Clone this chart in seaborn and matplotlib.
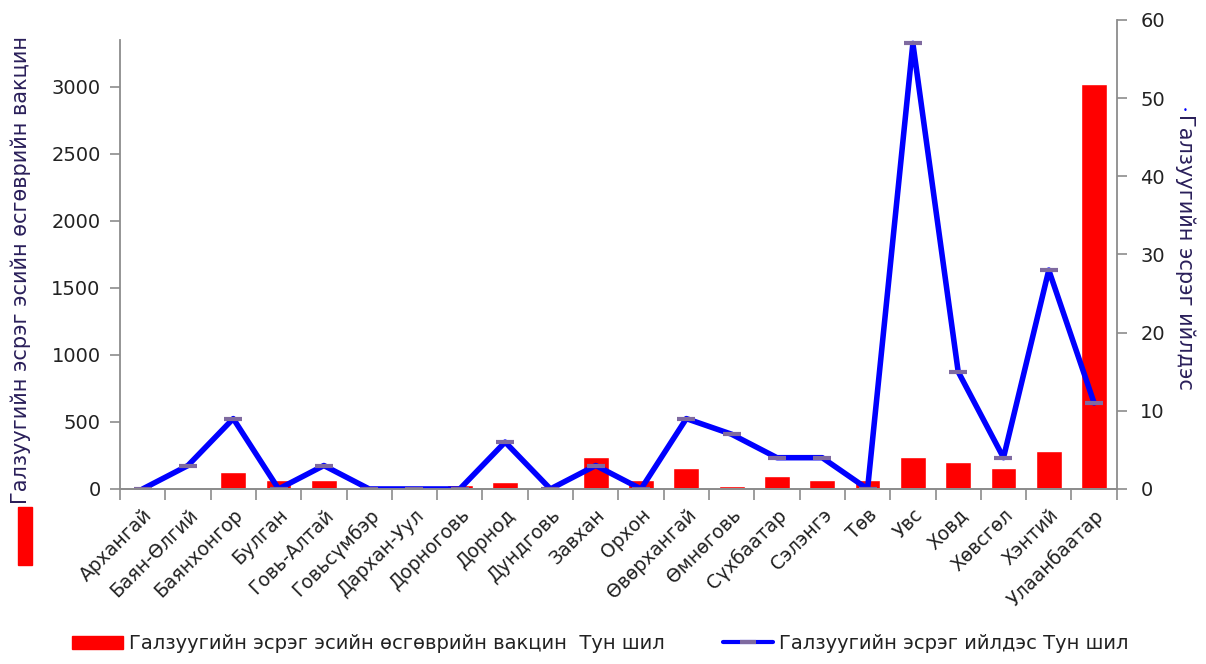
import numpy as np
import pandas as pd
import seaborn as sns
import matplotlib.pyplot as plt
from matplotlib.patches import Rectangle
from matplotlib.lines import Line2D
from matplotlib.patches import Patch

aimags = ["Архангай", "Баян-Өлгий", "Баянхонгор", "Булган", "Говь-Алтай",
          "Говьсүмбэр", "Дархан-Уул", "Дорноговь", "Дорнод", "Дундговь",
          "Завхан", "Орхон", "Өвөрхангай", "Өмнөговь", "Сүхбаатар", "Сэлэнгэ",
          "Төв", "Увс", "Ховд", "Хөвсгөл", "Хэнтий", "Улаанбаатар"]
vaccine = [0, 0, 125, 65, 65, 0, 0, 30, 50, 0, 241, 65, 154, 20, 95, 65,
           65, 241, 199, 154, 286, 3020]
serum = [0, 3, 9, 0, 3, 0, 0, 0, 6, 0, 3, 0, 9, 7, 4, 4, 0, 57, 15, 4, 28, 11]

vaccine_name = "Галзуугийн эсрэг эсийн өсгөврийн вакцин  Тун шил"
serum_name = "Галзуугийн эсрэг ийлдэс Тун шил"

df = pd.DataFrame({"aimag": aimags, "vaccine": vaccine, "serum": serum})
df["pos"] = np.arange(len(df))

sns.set_theme(style="white")
plt.rcParams["font.family"] = ["DejaVu Sans"]
txt = "#222222"
gray = "#8c8c8c"

fig = plt.figure(figsize=(12.06, 6.64), dpi=100)
ax = fig.add_axes([0.0995, 0.2636, 0.8265, 0.7064])

sns.barplot(data=df, x="pos", y="vaccine", color="#ff0000", saturation=1,
            width=0.57, ax=ax, native_scale=True)
ax.set_ylim(0, 3500)
ax.set_yticks(range(0, 3001, 500))
ax.spines["left"].set_bounds(0, 3350)

ax2 = ax.twinx()
sns.lineplot(data=df, x="pos", y="serum", color="#0000ff", lw=4, ax=ax2,
             marker="_", markersize=13, markeredgewidth=3,
             markeredgecolor="#7f6aa0")
ax2.set_ylim(0, 60)
ax2.set_yticks(range(0, 61, 10))

ax.set_xlim(-0.5, len(df) - 0.5)
ax.set_xticks(df["pos"])
ax.set_xticklabels(aimags, rotation=45, ha="right", rotation_mode="anchor",
                   fontsize=13.5, color=txt)
ax.set_xticks(np.arange(-0.5, len(df)), minor=True)
ax.tick_params(axis="x", which="major", length=0, pad=12)
ax.tick_params(axis="x", which="minor", length=8, color=gray, width=1.2,
               bottom=True)
ax.tick_params(axis="y", length=7, color=gray, width=1.2, labelsize=14,
               labelcolor=txt, left=True, pad=7)
ax2.tick_params(axis="y", length=7, color=gray, width=1.2, labelsize=14,
                labelcolor=txt, right=True, pad=10)

for a in (ax, ax2):
    a.set_xlabel("")
    a.set_ylabel("")
    a.grid(False)
    for s in a.spines.values():
        s.set_color(gray)
        s.set_linewidth(1.3)
    a.spines["top"].set_visible(False)
ax.spines["right"].set_visible(False)
ax2.spines["left"].set_visible(False)

fig.text(0.017, 0.593, "Галзуугийн эсрэг эсийн өсгөврийн вакцин", rotation=90,
         ha="center", va="center", fontsize=15, color="#2a1f5a")
fig.patches.append(Rectangle((0.0149, 0.149), 0.0116, 0.087,
                             transform=fig.transFigure, color="#ff0000"))
fig.text(0.983, 0.62, "Галзуугийн эсрэг ийлдэс", rotation=270,
         ha="center", va="center", fontsize=15, color="#2a1f5a")
fig.text(0.983, 0.833, "•", ha="center", va="center", fontsize=6,
         color="#0000ff")

handles = [Patch(color="#ff0000"),
           Line2D([], [], color="#0000ff", lw=3, marker="_", markersize=12,
                  markeredgewidth=3, markeredgecolor="#7f6aa0")]
fig.legend(handles, [vaccine_name, serum_name], loc="lower center",
           bbox_to_anchor=(0.498, -0.01), ncol=2, frameon=False, fontsize=14,
           handlelength=2.6, handletextpad=0.3, columnspacing=3.0,
           labelcolor=txt)

fig.savefig("out.png", dpi=100)
